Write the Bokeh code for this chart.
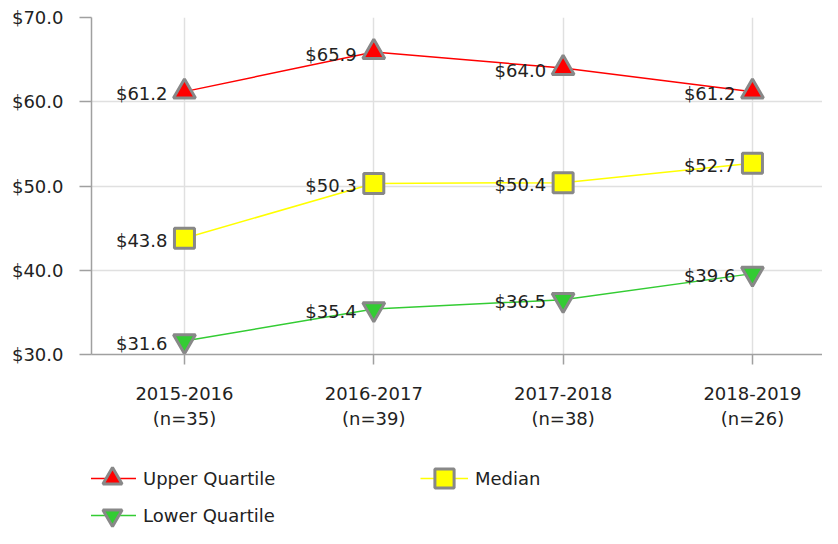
from bokeh.plotting import figure
from bokeh.layouts import column
from bokeh.models import Range1d, Legend, LegendItem, PrintfTickFormatter, FixedTicker, ColumnDataSource
from bokeh.core.properties import value
from bokeh.embed import file_html
from bokeh.resources import INLINE

# ---- data ----
periods = ["2015-2016", "2016-2017", "2017-2018", "2018-2019"]
n_counts = [35, 39, 38, 26]
upper_quartile = [61.2, 65.9, 64.0, 61.2]
median = [43.8, 50.3, 50.4, 52.7]
lower_quartile = [31.6, 35.4, 36.5, 39.6]
y_ticks = [30, 40, 50, 60, 70]

FONT = "DejaVu Sans"
TEXT = "#222222"

xs = list(range(len(periods)))

p = figure(width=822, height=440, output_backend="svg", toolbar_location=None,
           x_range=Range1d(-0.491, 3.370), y_range=Range1d(30, 70),
           min_border_left=91, min_border_right=0, min_border_top=17, min_border_bottom=86)
p.outline_line_color = None
p.background_fill_color = "white"

# axes
p.xaxis.ticker = FixedTicker(ticks=xs)
p.xaxis.major_label_overrides = {i: f"{periods[i]}\n(n={n_counts[i]})" for i in xs}
p.yaxis.ticker = FixedTicker(ticks=y_ticks)
p.yaxis.formatter = PrintfTickFormatter(format="$%.1f")
for ax in (p.xaxis[0], p.yaxis[0]):
    ax.axis_line_color = "#a0a0a0"
    ax.axis_line_width = 1.5
    ax.major_tick_line_color = "#a0a0a0"
    ax.major_tick_line_width = 1.5
    ax.major_tick_in = 0
    ax.minor_tick_line_color = None
    ax.major_label_text_font = FONT
    ax.major_label_text_font_size = "18px"
    ax.major_label_text_color = TEXT
p.xaxis.major_tick_out = 10
p.xaxis.major_label_standoff = 18
p.yaxis.major_tick_out = 12
p.yaxis.major_label_standoff = 16

p.xgrid.grid_line_color = "#e0e0e0"
p.ygrid.grid_line_color = "#e0e0e0"
p.xgrid.grid_line_width = 1.5
p.ygrid.grid_line_width = 1.5

series = [
    ("Upper Quartile", upper_quartile, "#ff0000", "triangle", 22),
    ("Median", median, "#ffff00", "square", 20),
    ("Lower Quartile", lower_quartile, "#33cc33", "inverted_triangle", 22),
]

# legend panel (separate figure below the chart)
lg = figure(width=822, height=88, output_backend="svg", toolbar_location=None,
            x_range=Range1d(0, 1), y_range=Range1d(0, 1),
            x_axis_type=None, y_axis_type=None,
            min_border_left=0, min_border_right=0, min_border_top=0, min_border_bottom=0)
lg.outline_line_color = None
lg.xgrid.visible = False
lg.ygrid.visible = False

items = {}
for name, vals, color, marker, size in series:
    src = ColumnDataSource(dict(x=xs, y=vals, lbl=[f"${v:.1f}" for v in vals]))
    p.line("x", "y", source=src, line_color=color, line_width=1.5)
    p.scatter("x", "y", source=src, marker=marker, size=size,
              fill_color=color, line_color="#888888", line_width=3)
    p.text("x", "y", text="lbl", source=src, x_offset=-17, y_offset=2,
           text_align="right", text_baseline="middle",
           text_font=value(FONT), text_font_size=value("18px"), text_color=TEXT)
    # hidden copies of the series, used only for the legend swatches
    ln = lg.line("x", "y", source=src, line_color=color, line_width=1.5, visible=False)
    sc = lg.scatter("x", "y", source=src, marker=marker, size=size,
                    fill_color=color, line_color="#888888", line_width=3, visible=False)
    items[name] = LegendItem(label=name, renderers=[ln, sc])

common = dict(glyph_width=48, glyph_height=48, label_standoff=7, spacing=0,
              padding=0, margin=0, border_line_color=None, background_fill_alpha=0,
              label_text_font=FONT, label_text_font_size="18px", label_text_color=TEXT,
              orientation="horizontal", inactive_fill_alpha=0)

leg1 = Legend(items=[items["Upper Quartile"], items["Median"]],
              location=(-3, 26), label_width=277, **common)
leg2 = Legend(items=[items["Lower Quartile"]],
              location=(-3, -11), **common)
lg.add_layout(leg1, "center")
lg.add_layout(leg2, "center")

layout = column(p, lg, spacing=0)
open("out.html", "w").write(file_html(layout, INLINE))
